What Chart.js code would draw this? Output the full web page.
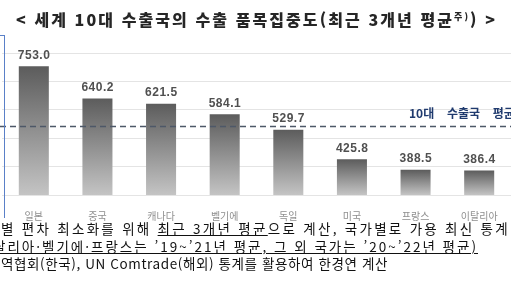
<!DOCTYPE html>
<html lang="ko">
<head>
<meta charset="utf-8">
<script src="https://cdn.jsdelivr.net/npm/chart.js@4.4.1/dist/chart.umd.min.js"></script>
<style>
  html,body{margin:0;padding:0;background:#fff;}
  body{width:511px;height:282px;overflow:hidden;position:relative;}
  #c{position:absolute;left:0;top:0;}
  .t{position:absolute;white-space:nowrap;display:inline-block;}
  #title{left:16px;top:6px;font-family:"Noto Sans CJK KR";font-weight:900;font-size:16px;line-height:21px;color:#262626;}
  #title .sup{font-size:9px;vertical-align:6px;}
  .fn{font-family:"Noto Sans CJK KR";font-size:13.5px;line-height:17px;color:#111;}
  #frame{position:absolute;left:-10px;top:35px;width:14px;height:182px;border-top:1.5px solid #5a80c8;border-right:1.5px solid #5a80c8;}
</style>
</head>
<body>
<canvas id="c" width="511" height="282"></canvas>
<div id="frame"></div>
<div id="title" class="t" data-w="481">&lt; 세계 10대 수출국의 수출 품목집중도(최근 3개년 평균<span class="sup">주)</span>) &gt;</div>
<div id="f1" class="t fn" style="left:1px;top:220px;" data-w="509">별 편차 최소화를 위해 <u>최근 3개년 평균</u>으로 계산, 국가별로 가용 최신 통계</div>
<div id="f2" class="t fn" style="left:-7px;top:238px;" data-w="485"><u>탈리아·벨기에·프랑스는 ’19~’21년 평균, 그 외 국가는 ’20~’22년 평균)</u></div>
<div id="f3" class="t fn" style="left:1px;top:255px;" data-w="387">역협회(한국), UN Comtrade(해외) 통계를 활용하여 한경연 계산</div>
<script>
// ---- data ----
const categories = ['일본', '중국', '캐나다', '벨기에', '독일', '미국', '프랑스', '이탈리아'];
const values = [753.0, 640.2, 621.5, 584.1, 529.7, 425.8, 388.5, 386.4];
const avgValue = 541.3;
const avgLabel = '10대 수출국 평균';
const yTicks = [300, 400, 500, 600, 700, 800];

// fit text widths
document.querySelectorAll('.t').forEach(el => {
  const target = parseFloat(el.dataset.w);
  el.style.letterSpacing = '0px';
  const w = el.getBoundingClientRect().width;
  const n = el.textContent.length;
  el.style.letterSpacing = ((target - w) / n) + 'px';
});

function barGradient(c) {
  const chart = c.chart;
  const area = chart.chartArea;
  if (!area || c.type !== 'data') return '#8a8a8a';
  const ys = chart.scales.y;
  const top = ys.getPixelForValue(c.raw);
  const bottom = ys.getPixelForValue(ys.min);
  const g = chart.ctx.createLinearGradient(0, top, 0, bottom);
  g.addColorStop(0, '#5c5c5c');
  g.addColorStop(1, '#c4c4c4');
  return g;
}

const avgLinePlugin = {
  id: 'avgLine',
  afterDatasetsDraw(chart) {
    const ctx = chart.ctx;
    const y = chart.scales.y.getPixelForValue(avgValue);
    ctx.save();
    ctx.strokeStyle = '#4e5868';
    ctx.lineWidth = 1.5;
    ctx.setLineDash([6, 4]);
    ctx.beginPath();
    ctx.moveTo(0, y);
    ctx.lineTo(chart.width, y);
    ctx.stroke();
    ctx.setLineDash([]);
    ctx.font = 'bold 12px "Noto Sans CJK KR"';
    ctx.fillStyle = '#1f3a6e';
    ctx.textAlign = 'left';
    ctx.textBaseline = 'bottom';
    try { ctx.wordSpacing = '10px'; } catch (e) {}
    ctx.fillText(avgLabel, 409, y - 7);
    ctx.restore();
  }
};

const valueLabelPlugin = {
  id: 'valueLabels',
  afterDatasetsDraw(chart) {
    const ctx = chart.ctx;
    const meta = chart.getDatasetMeta(0);
    ctx.save();
    ctx.font = 'bold 12px "Liberation Sans"';
    ctx.fillStyle = '#505050';
    ctx.textAlign = 'center';
    ctx.textBaseline = 'bottom';
    try { ctx.letterSpacing = '0.5px'; } catch (e) {}
    meta.data.forEach((bar, i) => {
      ctx.fillText(values[i].toFixed(1), bar.x + 0.25, bar.y - 5);
    });
    ctx.restore();
  }
};

new Chart(document.getElementById('c'), {
  type: 'bar',
  data: {
    labels: categories,
    datasets: [{
      data: values,
      backgroundColor: barGradient,
      borderWidth: 0,
      categoryPercentage: 1,
      barPercentage: 0.472
    }]
  },
  options: {
    responsive: false,
    animation: false,
    devicePixelRatio: 1,
    layout: { padding: { left: 2, top: 53, right: 0, bottom: 0 } },
    plugins: { legend: { display: false }, tooltip: { enabled: false } },
    scales: {
      x: {
        grid: { display: false },
        border: { display: false },
        ticks: { color: '#8f8f8f', font: { family: 'Noto Sans CJK KR', size: 10 }, padding: 7, maxRotation: 0 },
        afterFit: s => { s.height = 87; }
      },
      y: {
        min: 300, max: 800,
        afterBuildTicks: s => { s.ticks = yTicks.map(v => ({ value: v })); },
        grid: { color: '#e4e4e4', drawTicks: false },
        border: { display: false },
        ticks: { display: false },
        afterFit: s => { s.width = 0; }
      }
    }
  },
  plugins: [avgLinePlugin, valueLabelPlugin]
});
</script>
</body>
</html>
